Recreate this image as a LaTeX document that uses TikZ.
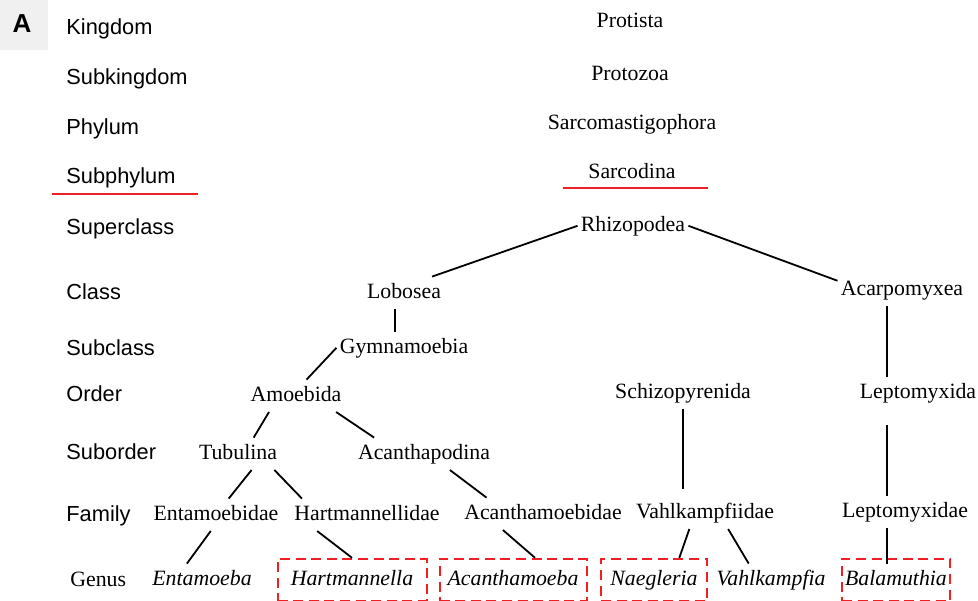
\documentclass[tikz,border=0pt]{standalone}
\usepackage{fontspec}
\setmainfont{Liberation Serif}
\setsansfont{Liberation Sans}
\definecolor{markred}{RGB}{238,32,36}

\begin{document}
\begin{tikzpicture}[x=0.5pt,y=-0.5pt,
    rank/.style={anchor=base west,inner sep=0pt,font=\sffamily\fontsize{10.9}{13}\selectfont},
    taxon/.style={anchor=base,text height=7.5pt,text depth=2.3pt,inner xsep=1.5pt,inner ysep=3pt,
        font=\fontsize{10.9}{13}\selectfont},
    genus/.style={taxon,font=\itshape\fontsize{10.9}{13}\selectfont},
    genusbox/.style={genus,draw=markred,line width=1pt,dash pattern=on 5pt off 2.8pt,minimum height=21pt},
    link/.style={line width=0.9pt},
    redrule/.style={markred,line width=1pt}]
    \useasboundingbox (0,0) rectangle (978,600);
    \fill[gray!12] (0,0) rectangle (48,50);
    \node[font=\sffamily\bfseries\fontsize{13}{15}\selectfont] (panel) at (22,24) {A};
    % ranks
    \node[rank] (kingdom) at (66,34) {Kingdom};
    \node[rank] (subkingdom) at (66,84) {Subkingdom};
    \node[rank] (phylum) at (66,134) {Phylum};
    \node[rank] (subphylum) at (66,183) {Subphylum};
    \node[rank] (superclass) at (66,234) {Superclass};
    \node[rank] (class) at (66,299) {Class};
    \node[rank] (subclass) at (66,355) {Subclass};
    \node[rank] (order) at (66,401) {Order};
    \node[rank] (suborder) at (66,459) {Suborder};
    \node[rank] (family) at (66,521) {Family};
    \node[rank,font=\fontsize{10.9}{13}\selectfont] (genusrank) at (70,586) {Genus};
    \draw[redrule] (52,194) -- (198,194);
    % taxa
    \node[taxon] (protista) at (630,27) {Protista};
    \node[taxon] (protozoa) at (630,80) {Protozoa};
    \node[taxon] (sarcomastig) at (632,129) {Sarcomastigophora};
    \node[taxon] (sarcodina) at (632,178) {Sarcodina};
    \draw[redrule] (563,188) -- (708,188);
    \node[taxon] (rhizopodea) at (633,231) {Rhizopodea};
    \node[taxon] (lobosea) at (404,298) {Lobosea};
    \node[taxon] (acarpomyxea) at (902,295) {Acarpomyxea};
    \node[taxon] (gymnamoebia) at (404,353) {Gymnamoebia};
    \node[taxon] (amoebida) at (296,401) {Amoebida};
    \node[taxon] (schizopyrenida) at (683,398) {Schizopyrenida};
    \node[taxon] (leptomyxida) at (918,398) {Leptomyxida};
    \node[taxon] (tubulina) at (238,459) {Tubulina};
    \node[taxon] (acanthapodina) at (424,459) {Acanthapodina};
    \node[taxon] (entamoebidae) at (216,520) {Entamoebidae};
    \node[taxon] (hartmannellidae) at (367,520) {Hartmannellidae};
    \node[taxon] (acanthamoebidae) at (543,519) {Acanthamoebidae};
    \node[taxon] (vahlkampfiidae) at (705,518) {Vahlkampfiidae};
    \node[taxon] (leptomyxidae) at (905,517) {Leptomyxidae};
    \node[genus] (entamoeba) at (202,585) {Entamoeba};
    \node[genusbox,minimum width=74.5pt] (hartmannella) at (352,585) {Hartmannella};
    \node[genusbox,minimum width=73.5pt] (acanthamoeba) at (513,585) {Acanthamoeba};
    \node[genusbox,minimum width=53pt] (naegleria) at (654,585) {Naegleria};
    \node[genus] (vahlkampfia) at (771,585) {Vahlkampfia};
    \node[genusbox,minimum width=54pt] (balamuthia) at (896,585) {Balamuthia};
    % links
    \draw[link] (rhizopodea.west) -- (lobosea.30);
    \draw[link] (rhizopodea.east) -- (acarpomyxea.172);
    \draw[link] (lobosea.240) -- (lobosea.240 |- gymnamoebia.north);
    \draw[link] (gymnamoebia.west) -- (amoebida.57);
    \draw[link] (amoebida.211) -- (tubulina.46);
    \draw[link] (amoebida.338) -- (acanthapodina.162);
    \draw[link] (tubulina.310) -- (entamoebidae.52);
    \draw[link] (tubulina.336) -- (hartmannellidae.166);
    \draw[link] (acanthapodina.328) -- (acanthamoebidae.164);
    \draw[link] (entamoebidae.252) -- (entamoeba.133);
    \draw[link] (hartmannellidae.198) -- (hartmannella.north);
    \draw[link] (acanthamoebidae.202) -- (acanthamoeba.45);
    \draw[link,shorten >=4pt] (schizopyrenida.south) -- (schizopyrenida.south |- vahlkampfiidae.north);
    \draw[link] (vahlkampfiidae.226) -- (naegleria.41);
    \draw[link] (vahlkampfiidae.325) -- (vahlkampfia.144);
    \coordinate (trunk) at (887,300);
    \draw[link] (acarpomyxea.south -| trunk) -- (leptomyxida.north -| trunk);
    \draw[link,shorten <=8pt] (leptomyxida.south -| trunk) -- (leptomyxidae.north -| trunk);
    \draw[link,shorten >=-3pt] (leptomyxidae.south -| trunk) -- (balamuthia.north -| trunk);
\end{tikzpicture}
\end{document}
